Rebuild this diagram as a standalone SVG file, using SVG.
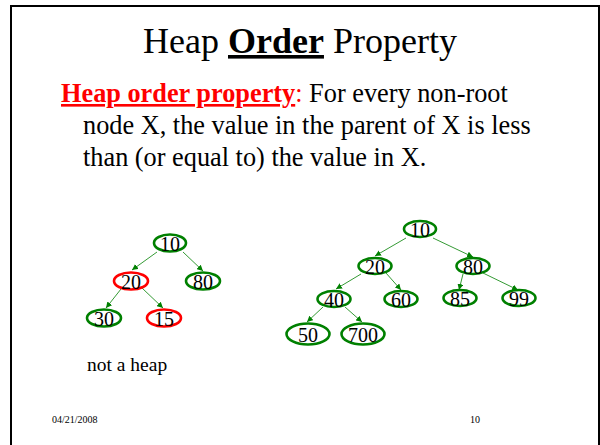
<svg xmlns="http://www.w3.org/2000/svg" width="600" height="445" viewBox="0 0 600 445">
<style>
.t{font-family:"Liberation Serif","Times New Roman",serif;fill:#000}
.n ellipse{fill:#fff;stroke:#008000;stroke-width:2.6}
.n.bad ellipse{stroke:#ff0000}
.n text{font-family:"Liberation Serif","Times New Roman",serif;font-size:20px;text-anchor:middle;fill:#000}
.e line{stroke:#008000;stroke-width:0.8;marker-end:url(#ah)}
</style>
<defs>
<marker id="ah" viewBox="0 0 10 10" refX="10" refY="5" markerWidth="6" markerHeight="6" markerUnits="userSpaceOnUse" orient="auto">
<path d="M0,0 L10,5 L0,10 z" fill="#008000"/>
</marker>
</defs>
<rect x="0" y="0" width="600" height="445" fill="#fff"/>
<rect x="11" y="6" width="588" height="450" fill="none" stroke="#000" stroke-width="2"/>
<text class="t" x="300" y="53" font-size="36" text-anchor="middle">Heap <tspan font-weight="bold" text-decoration="underline">Order</tspan> Property</text>
<text class="t" x="61" y="102" font-size="26.3"><tspan fill="#ff0000" font-weight="bold" text-decoration="underline">Heap order property</tspan><tspan fill="#ff0000">:</tspan> For every non-root</text>
<text class="t" x="83" y="134" font-size="26.3">node X, the value in the parent of X is less</text>
<text class="t" x="83" y="166" font-size="26.3">than (or equal to) the value in X.</text>
<g id="connectors" class="e">
<line x1="157" y1="252" x2="132" y2="270"/>
<line x1="183" y1="252" x2="203" y2="271"/>
<line x1="121" y1="289" x2="106" y2="308"/>
<line x1="142" y1="288" x2="163" y2="308"/>
<line x1="406" y1="238" x2="375" y2="256"/>
<line x1="433" y1="238" x2="473" y2="257"/>
<line x1="361" y1="274" x2="336" y2="289"/>
<line x1="386" y1="273" x2="401" y2="290"/>
<line x1="463" y1="274" x2="459" y2="290"/>
<line x1="483" y1="273" x2="518" y2="290"/>
<line x1="323" y1="307" x2="307" y2="322"/>
<line x1="345" y1="307" x2="362" y2="322"/>
</g>
<g id="L10" class="n"><ellipse cx="170" cy="243" rx="16" ry="8.5"/><text x="170" y="251">10</text></g>
<g id="L20" class="n bad"><ellipse cx="131" cy="281" rx="17" ry="8.5"/><text x="131" y="289">20</text></g>
<g id="L80" class="n"><ellipse cx="203" cy="281" rx="17" ry="8.5"/><text x="203" y="289">80</text></g>
<g id="L30" class="n"><ellipse cx="104" cy="318" rx="17" ry="8.5"/><text x="104" y="326">30</text></g>
<g id="L15" class="n bad"><ellipse cx="164" cy="318" rx="17" ry="8.5"/><text x="164" y="326">15</text></g>
<g id="R10" class="n"><ellipse cx="420" cy="229" rx="16" ry="8"/><text x="420" y="237">10</text></g>
<g id="R20" class="n"><ellipse cx="375" cy="266" rx="16.5" ry="8"/><text x="375" y="274">20</text></g>
<g id="R80" class="n"><ellipse cx="473" cy="266" rx="16.5" ry="8"/><text x="473" y="274">80</text></g>
<g id="R40" class="n"><ellipse cx="334" cy="299" rx="16.5" ry="8"/><text x="334" y="307">40</text></g>
<g id="R60" class="n"><ellipse cx="401" cy="299" rx="16.5" ry="8"/><text x="401" y="307">60</text></g>
<g id="R85" class="n"><ellipse cx="460" cy="298" rx="16.5" ry="8"/><text x="460" y="306">85</text></g>
<g id="R99" class="n"><ellipse cx="519" cy="298" rx="16.5" ry="8"/><text x="519" y="306">99</text></g>
<g id="R50" class="n"><ellipse cx="308" cy="334" rx="21.5" ry="10.5"/><text x="308" y="342">50</text></g>
<g id="R700" class="n"><ellipse cx="363" cy="334" rx="21.5" ry="10.5"/><text x="363" y="342">700</text></g>
<text class="t" x="87" y="371" font-size="19.5">not a heap</text>
<text class="t" x="52" y="423" font-size="10">04/21/2008</text>
<text class="t" x="480" y="423" font-size="10" text-anchor="end">10</text>
</svg>
